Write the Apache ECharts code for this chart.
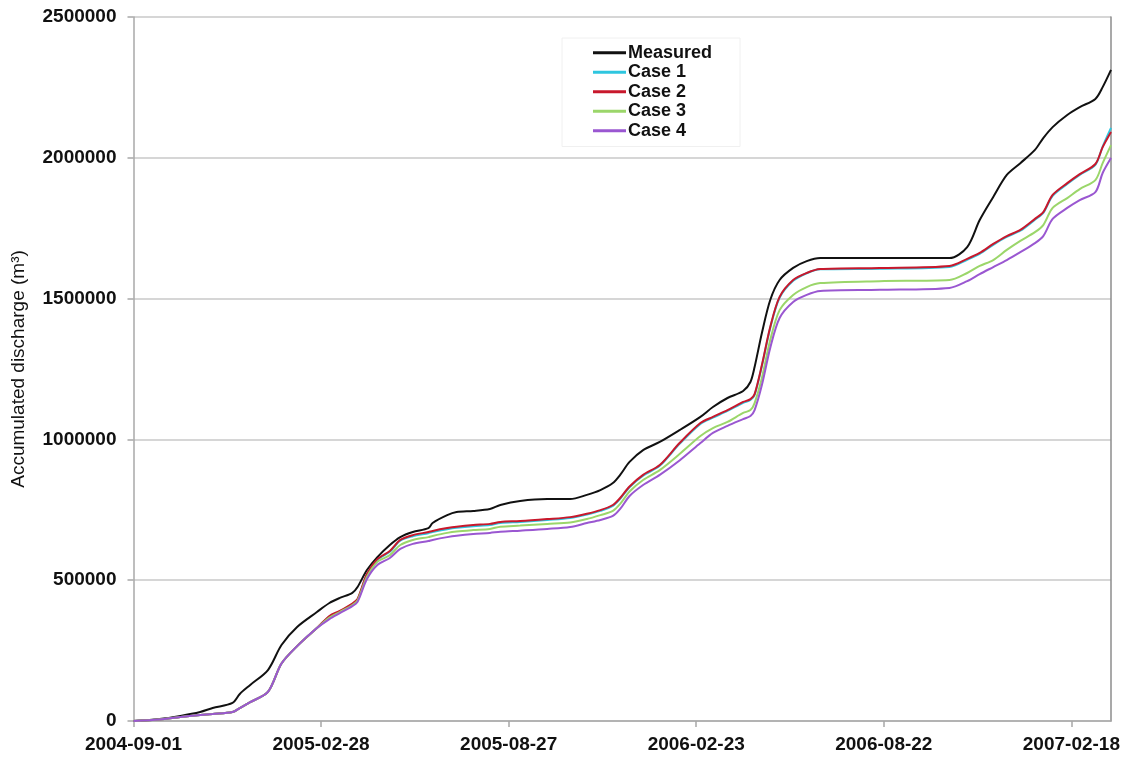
<!DOCTYPE html>
<html>
<head>
<meta charset="utf-8">
<script src="https://cdn.jsdelivr.net/npm/echarts@6/dist/echarts.min.js"></script>
<style>
  html, body { margin: 0; padding: 0; background: #ffffff; }
  #chart { width: 1127px; height: 760px; }
</style>
</head>
<body>
<div id="chart"></div>
<script>
// Sampling dates of the cumulative discharge record
const dates = [
  '2004-09-01','2004-09-26','2004-10-16','2004-11-04','2004-11-16','2004-12-05','2004-12-12','2004-12-22',
  '2005-01-08','2005-01-21','2005-02-05','2005-02-24','2005-03-08','2005-03-18','2005-03-30','2005-04-04',
  '2005-04-13','2005-04-23','2005-05-05','2005-05-15','2005-05-27','2005-06-11','2005-06-15','2005-06-29',
  '2005-07-08','2005-07-24','2005-08-09','2005-08-19','2005-09-07','2005-10-03','2005-10-25','2005-11-10',
  '2005-11-23','2005-12-05','2005-12-12','2005-12-21','2006-01-03','2006-01-19','2006-02-07','2006-02-27',
  '2006-03-11','2006-03-25','2006-04-09','2006-04-16','2006-04-20','2006-04-27','2006-05-05','2006-05-14',
  '2006-05-27','2006-06-09','2006-06-22','2006-08-18','2006-10-24','2006-11-10','2006-11-22','2006-12-05',
  '2006-12-18','2006-12-31','2007-01-14','2007-01-22','2007-01-31','2007-02-14','2007-02-26','2007-03-13',
  '2007-03-20','2007-03-28'
];

// Accumulated discharge (m3)
const measured = [
  0, 7000, 18000, 32000, 46000, 64000, 96000, 128000,
  181000, 270000, 334000, 387000, 419000, 437000, 455000, 476000,
  536000, 582000, 625000, 653000, 671000, 685000, 703000, 731000,
  742000, 746000, 753000, 767000, 781000, 788000, 788000, 803000,
  820000, 845000, 874000, 920000, 962000, 991000, 1033000, 1080000,
  1115000, 1147000, 1172000, 1204000, 1257000, 1378000, 1495000, 1566000,
  1609000, 1633000, 1644000, 1644000, 1644000, 1683000, 1779000, 1861000,
  1939000, 1981000, 2028000, 2070000, 2109000, 2152000, 2180000, 2209000,
  2251000, 2312000
];

const case1 = [
  0, 5000, 14000, 21000, 25000, 32000, 46000, 67000,
  103000, 204000, 266000, 330000, 371000, 389000, 415000, 431000,
  520000, 572000, 601000, 640000, 656000, 667000, 671000, 681000,
  686000, 692000, 696000, 703000, 707000, 714000, 721000, 733000,
  746000, 764000, 789000, 830000, 871000, 906000, 984000, 1055000,
  1077000, 1101000, 1130000, 1140000, 1158000, 1261000, 1396000, 1503000,
  1563000, 1590000, 1604000, 1606000, 1612000, 1638000, 1659000, 1691000,
  1719000, 1741000, 1780000, 1804000, 1865000, 1907000, 1939000, 1975000,
  2040000, 2106000
];

const case2 = [
  0, 5000, 14000, 21000, 25000, 32000, 46000, 67000,
  103000, 204000, 266000, 330000, 373000, 391000, 417000, 433000,
  522000, 575000, 604000, 643000, 660000, 671000, 675000, 685000,
  690000, 696000, 700000, 707000, 710000, 717000, 724000, 736000,
  749000, 767000, 792000, 833000, 874000, 909000, 987000, 1058000,
  1080000, 1104000, 1133000, 1143000, 1161000, 1264000, 1399000, 1506000,
  1566000, 1591000, 1605000, 1609000, 1616000, 1641000, 1662000, 1694000,
  1722000, 1744000, 1783000, 1807000, 1868000, 1910000, 1942000, 1978000,
  2038000, 2092000
];

const case3 = [
  0, 5000, 14000, 21000, 25000, 32000, 46000, 67000,
  103000, 204000, 266000, 330000, 367000, 387000, 412000, 428000,
  512000, 565000, 589000, 625000, 643000, 653000, 657000, 668000,
  673000, 678000, 682000, 690000, 694000, 700000, 705000, 717000,
  731000, 746000, 771000, 815000, 856000, 891000, 948000, 1012000,
  1040000, 1062000, 1094000, 1104000, 1129000, 1218000, 1353000, 1459000,
  1513000, 1541000, 1555000, 1562000, 1566000, 1591000, 1616000, 1637000,
  1673000, 1705000, 1736000, 1761000, 1822000, 1857000, 1889000, 1921000,
  1981000, 2045000
];

const case4 = [
  0, 5000, 14000, 21000, 25000, 32000, 46000, 67000,
  103000, 204000, 266000, 330000, 362000, 383000, 408000, 423000,
  504000, 554000, 579000, 611000, 629000, 639000, 643000, 653000,
  658000, 664000, 668000, 672000, 676000, 682000, 689000, 703000,
  714000, 728000, 753000, 799000, 838000, 874000, 925000, 987000,
  1023000, 1048000, 1072000, 1083000, 1104000, 1193000, 1325000, 1431000,
  1488000, 1513000, 1527000, 1531000, 1538000, 1562000, 1587000, 1612000,
  1637000, 1665000, 1697000, 1722000, 1783000, 1822000, 1850000, 1878000,
  1946000, 1999000
];

const seriesNames = ['Measured', 'Case 1', 'Case 2', 'Case 3', 'Case 4'];
const seriesColors = ['#111111', '#2ec6df', '#c8182c', '#9bd66a', '#9a57d1'];

// Date axis: ticks every 180 days from the start date
const tickLabels = ['2004-09-01', '2005-02-28', '2005-08-27', '2006-02-23', '2006-08-22', '2007-02-18'];
const axisStart = '2004-09-01';
const axisEnd = '2007-03-28';
const tickStepDays = 180;

const DAY_MS = 86400000;
function dayOffset(d) {
  return Math.round((Date.parse(d) - Date.parse(axisStart)) / DAY_MS);
}
function toPairs(values) {
  return dates.map((d, i) => [dayOffset(d), values[i]]);
}

const FONT = "'Liberation Sans', Arial, sans-serif";
const valuesBySeries = [measured, case1, case2, case3, case4];

const chart = echarts.init(document.getElementById('chart'), null, { renderer: 'canvas' });

chart.setOption({
  animation: false,
  backgroundColor: '#ffffff',
  grid: {
    left: 133.5, right: 16, top: 17, bottom: 39,
    containLabel: false,
    outerBoundsMode: 'none'
  },
  legend: {
    orient: 'vertical',
    left: 562, top: 38,
    padding: [5, 28, 6, 31],
    backgroundColor: '#ffffff',
    borderColor: '#f0f0f0',
    borderWidth: 1,
    icon: 'rect',
    itemWidth: 33,
    itemHeight: 3,
    itemGap: 0,
    data: seriesNames,
    textStyle: {
      fontFamily: FONT, fontSize: 18, fontWeight: 'bold', color: '#111111',
      lineHeight: 19.5, padding: [0, 0, 0, -3]
    }
  },
  xAxis: {
    type: 'value',
    min: 0,
    max: dayOffset(axisEnd),
    interval: tickStepDays,
    splitLine: { show: false },
    axisLine: { show: true, onZero: false, lineStyle: { color: '#a8a8a8', width: 1.5 } },
    axisTick: { show: true, length: 6, lineStyle: { color: '#a8a8a8', width: 1.5 } },
    axisLabel: {
      showMaxLabel: false,
      margin: 14,
      fontFamily: FONT, fontSize: 19, fontWeight: 'bold', color: '#111111',
      formatter: function (v) {
        return v % tickStepDays === 0 ? (tickLabels[v / tickStepDays] || '') : '';
      }
    }
  },
  yAxis: [
    {
      type: 'value',
      min: 0, max: 2500000, interval: 500000,
      name: 'Accumulated discharge (m\u00B3)',
      nameLocation: 'middle',
      nameGap: 105,
      nameTextStyle: { fontFamily: FONT, fontSize: 19, color: '#111111' },
      splitLine: { show: true, lineStyle: { color: '#c8c8c8', width: 1.5 } },
      axisLine: { show: true, lineStyle: { color: '#a8a8a8', width: 1.5 } },
      axisTick: { show: true, length: 6, lineStyle: { color: '#a8a8a8', width: 1.5 } },
      axisLabel: {
        margin: 17,
        fontFamily: FONT, fontSize: 19, fontWeight: 'bold', color: '#111111',
        formatter: function (v) { return String(v); }
      }
    },
    {
      // plain right-hand frame line
      type: 'value',
      position: 'right',
      min: 0, max: 2500000,
      splitLine: { show: false },
      axisLine: { show: true, lineStyle: { color: '#8c8c8c', width: 1.5 } },
      axisTick: { show: false },
      axisLabel: { show: false }
    }
  ],
  series: seriesNames.map((name, i) => ({
    name: name,
    type: 'line',
    data: toPairs(valuesBySeries[i]),
    showSymbol: false,
    symbol: 'none',
    smooth: 0.3,
    color: seriesColors[i],
    lineStyle: { color: seriesColors[i], width: 2 },
    z: 2 + i
  }))
});
</script>
</body>
</html>
